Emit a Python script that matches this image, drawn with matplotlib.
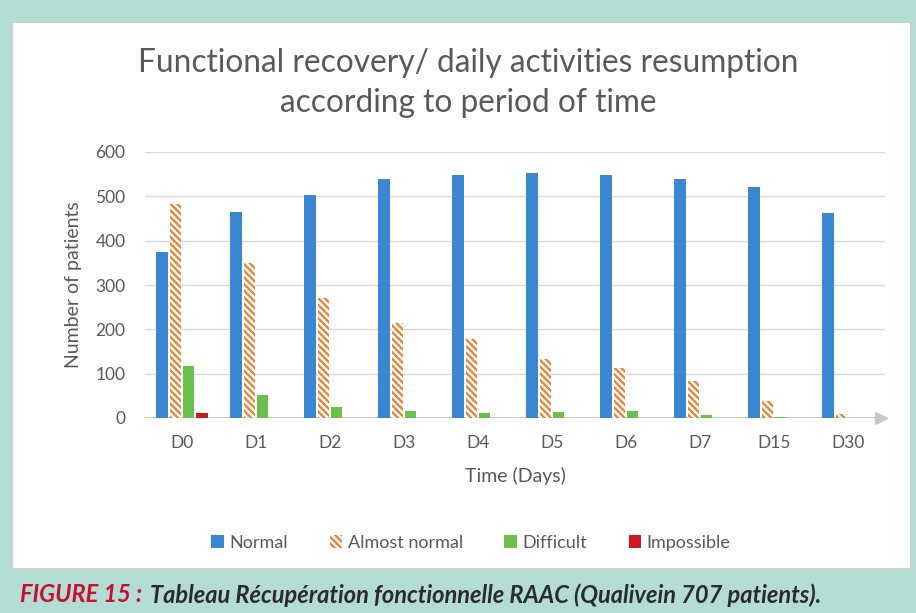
import matplotlib
matplotlib.use("Agg")
import matplotlib.pyplot as plt
import numpy as np
from matplotlib.patches import Rectangle

categories = ["D0", "D1", "D2", "D3", "D4", "D5", "D6", "D7", "D15", "D30"]
normal = [375, 465, 503, 538, 548, 553, 548, 539, 521, 463]
almost_normal = [483, 349, 271, 215, 178, 134, 112, 84, 39, 10]
difficult = [117, 52, 24, 15, 12, 13, 16, 6, 3, 1]
impossible = [11, 1, 0, 0, 0, 0, 0, 0, 0, 0]
series_names = ["Normal", "Almost normal", "Difficult", "Impossible"]
yticks = [0, 100, 200, 300, 400, 500, 600]

plt.rcParams['font.family'] = ['Lato', 'DejaVu Sans']
plt.rcParams['hatch.linewidth'] = 1.6

W, H = 916, 613
fig = plt.figure(figsize=(W/100, H/100), dpi=100)
fig.patch.set_facecolor('#b3ddd4')
fig.patches.append(Rectangle((12/W, 1-568/H), (910-12)/W, (568-22)/H,
                             transform=fig.transFigure, facecolor='white',
                             edgecolor='#cfcfcf', linewidth=0.8, zorder=-10))

ax = fig.add_axes([145/W, 1-418/H, 740/W, 266/H])
ax.set_facecolor('none')
x = np.arange(len(categories))
bw = 0.15
step = 0.18
colors = ['#3b86d0', 'white', '#6cc04a', '#d0181f']
data = [normal, almost_normal, difficult, impossible]
for i, (vals, c, name) in enumerate(zip(data, colors, series_names)):
    off = (i - 1.5) * step
    if i == 1:
        ax.bar(x + off, vals, bw, facecolor='white', edgecolor='#ed7d31',
               hatch='\\' * 5, linewidth=0, label=name, zorder=3)
    else:
        ax.bar(x + off, vals, bw, color=c, label=name, zorder=3)

ax.set_xlim(-0.5, 9.5)
ax.set_ylim(0, 600)
ax.set_yticks(yticks)
ax.set_xticks(x)
ax.set_xticklabels(categories)
ax.tick_params(axis='both', length=0, labelsize=12.5, colors='#595959', pad=12)
ax.tick_params(axis='y', pad=14)
ax.grid(axis='y', color='#d9d9d9', linewidth=1, zorder=0)
for s in ax.spines.values():
    s.set_visible(False)
ax.axhline(0, color='#bfbfbf', linewidth=1.2, zorder=2)
ax.plot([9.45], [0], marker='>', color='#c8c8c8', markersize=9, clip_on=False, zorder=2)

ax.set_ylabel("Number of patients", fontsize=14, color='#595959', labelpad=10)
ax.set_xlabel("Time (Days)", fontsize=14, color='#595959', labelpad=12)

fig.text(468/W, 1-63/H, "Functional recovery/ daily activities resumption",
         ha='center', va='center', fontsize=22.8, color='#595959')
fig.text(468/W, 1-103/H, "according to period of time",
         ha='center', va='center', fontsize=22.8, color='#595959')

leg = ax.legend(loc='center', bbox_to_anchor=(471/W, 1-543/H), bbox_transform=fig.transFigure,
                ncol=4, frameon=False, fontsize=13, handlelength=0.7, handleheight=0.7,
                handletextpad=0.3, columnspacing=2.3)
for t in leg.get_texts():
    t.set_color('#595959')

fig.text(20/W, 1-595/H, "FIGURE 15 : ", ha='left', va='center', fontsize=17,
         color='#c8102e', style='italic', fontweight='bold')
fig.text(150/W, 1-595/H, "Tableau Récupération fonctionnelle RAAC (Qualivein 707 patients).",
         ha='left', va='center', fontsize=17, color='#2b2b2b', style='italic', fontweight='bold')

fig.savefig('out.png', dpi=100, facecolor=fig.get_facecolor())
